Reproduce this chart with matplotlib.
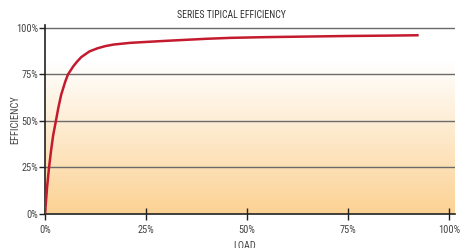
import matplotlib
matplotlib.use("Agg")
import matplotlib.pyplot as plt
from matplotlib import font_manager
import numpy as np

# load (%) vs efficiency (%)
load = [0, 0.5, 1, 1.5, 2, 2.7, 3.3, 4, 5, 5.7, 7, 8, 9, 11, 13, 15, 17, 21, 25, 30, 40, 46, 55, 65, 75, 85, 92.5]
efficiency = [0, 14, 25, 34, 42, 50, 57, 64, 71, 75, 79.3, 82, 84.3, 87.3, 89.0, 90.2, 91.0, 91.9, 92.4, 93.0, 94.1, 94.6, 95.0, 95.3, 95.6, 95.8, 96.0]

x_ticks = [0, 25, 50, 75, 100]
y_ticks = [0, 25, 50, 75, 100]
tick_labels = ["0%", "25%", "50%", "75%", "100%"]

# pick a condensed face if one is around
names = {f.name for f in font_manager.fontManager.ttflist}
family = 'DejaVu Sans'
for cand in ['Liberation Sans Narrow', 'DejaVu Sans Condensed', 'Roboto Condensed', 'Open Sans Condensed', 'Arial Narrow']:
    if cand in names:
        family = cand
        break
plt.rcParams['font.family'] = [family, 'DejaVu Sans']

fig = plt.figure(figsize=(4.62, 2.48), dpi=100)
ax = fig.add_axes([45 / 462, 1 - 214 / 248, 410 / 462, (214 - 25) / 248])
ax.set_xlim(0, 101.5)
ax.set_ylim(0, 101.5)

# orange gradient fading to white towards the top
n = 256
frac = np.linspace(0, 1, n)  # 0 = bottom of axes
top_level = 82 / 101.5
a = np.clip(1 - frac / top_level, 0, 1)
base = np.array([252, 210, 148]) / 255.0
img = np.ones((n, 1, 3))
for i in range(n):
    img[i, 0, :] = 1 - a[i] * (1 - base)
ax.imshow(img, extent=[0, 101.5, 0, 101.5], origin='lower', aspect='auto', zorder=0)

for y in y_ticks[1:]:
    ax.axhline(y, color='#6a6a6a', lw=1.0, zorder=1)

ax.plot(load, efficiency, color='#c41a2e', lw=1.8, zorder=3, solid_capstyle='butt')

for s in ['top', 'right']:
    ax.spines[s].set_visible(False)
ax.spines['left'].set_color('#222222')
ax.spines['bottom'].set_color('#222222')
ax.spines['left'].set_linewidth(1.2)
ax.spines['bottom'].set_linewidth(1.2)

ax.set_xticks(x_ticks)
ax.set_xticklabels(tick_labels)
ax.set_yticks(y_ticks)
ax.set_yticklabels(tick_labels)
ax.tick_params(axis='x', direction='inout', length=8, width=1, color='#222222',
               labelsize=7.5, labelcolor='#444444', pad=4)
ax.tick_params(axis='y', direction='out', length=4, width=1, color='#222222',
               labelsize=7.5, labelcolor='#444444', pad=1)

fig.text(231 / 462, 1 - 15 / 248, 'SERIES TIPICAL EFFICIENCY', fontsize=7,
         color='#333333', ha='center', va='center')
fig.text(245 / 462, 1 - 246 / 248, 'LOAD', fontsize=7.5, color='#444444',
         ha='center', va='center')
fig.text(15 / 462, 1 - 120 / 248, 'EFFICIENCY', rotation=90, fontsize=7.5,
         color='#444444', ha='center', va='center')

fig.savefig('out.png', dpi=100)
